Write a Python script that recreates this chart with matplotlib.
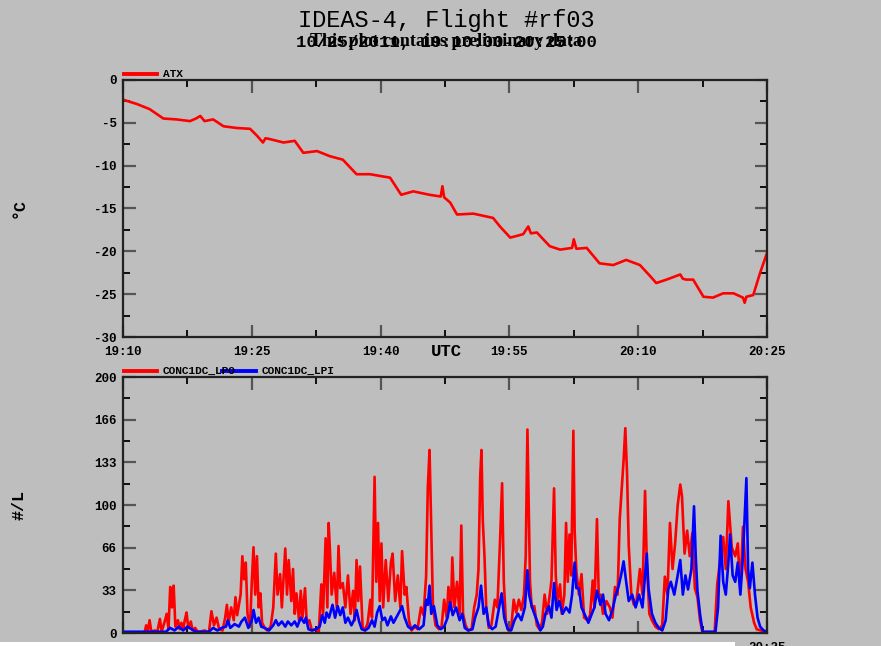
import numpy as np
import matplotlib
matplotlib.use('Agg')
import matplotlib.pyplot as plt
from matplotlib.lines import Line2D
from matplotlib.patches import Rectangle

BG = '#bebebe'
MONO = 'Liberation Mono'

# x axis: minutes after 19:10 UTC
tick_min = [0, 15, 30, 45, 60, 75]
tick_lab = ['19:10', '19:25', '19:40', '19:55', '20:10', '20:25']

# ATX (deg C)
atx_t = [0, 1.6, 3.1, 4.7, 6.2, 7.8, 8.5, 9.0, 9.5, 10.5, 11.7, 13.2, 14.8, 15.6, 16.3, 16.6,
         17.1, 18.7, 20.0, 21.0, 22.6, 24.1, 25.6, 27.2, 28.8, 29.9, 31.1, 32.4, 33.8, 35.7,
         37.0, 37.2, 37.4, 38.1, 38.9, 40.8, 43.1, 43.9, 45.1, 46.6, 47.2, 47.5, 48.2, 49.7,
         50.9, 52.3, 52.5, 52.8, 54.0, 55.5, 57.1, 58.6, 60.2, 61.4, 62.1, 63.3, 64.9, 65.2,
         65.6, 66.4, 67.6, 68.7, 69.9, 71.1, 72.2, 72.4, 72.6, 73.4, 74.2, 75.0]
atx_v = [-2.3, -2.8, -3.4, -4.5, -4.6, -4.8, -4.5, -4.2, -4.8, -4.6, -5.4, -5.6, -5.7, -6.5, -7.3, -6.8,
         -6.9, -7.3, -7.1, -8.5, -8.3, -8.9, -9.3, -11.0, -11.0, -11.2, -11.4, -13.4, -13.0, -13.4,
         -13.6, -12.4, -13.7, -14.3, -15.7, -15.6, -16.1, -17.1, -18.4, -18.0, -17.1, -17.9, -17.8, -19.4,
         -19.8, -19.6, -18.6, -19.7, -19.6, -21.4, -21.6, -21.0, -21.6, -22.9, -23.7, -23.3, -22.7, -23.2,
         -23.3, -23.3, -25.3, -25.4, -24.9, -24.9, -25.4, -26.0, -25.3, -25.1, -22.5, -20.2]

# CONC1DC_LPO (#/L), (minute, value) peaks and troughs
lpo = [(0, 0), (2.5, 0), (2.7, 6), (2.9, 2), (3.1, 10), (3.3, 1), (3.7, 2), (4.0, 1), (4.3, 11), (4.5, 1),
       (4.9, 10), (5.1, 15), (5.3, 3), (5.5, 36), (5.7, 20), (5.9, 37), (6.1, 5), (6.4, 10), (6.6, 3),
       (6.8, 8), (7.0, 3), (7.2, 10), (7.4, 16), (7.6, 4), (7.9, 9), (8.1, 2), (8.4, 4), (8.7, 1), (9, 1),
       (9.5, 2), (10, 0), (10.3, 17), (10.6, 6), (10.9, 12), (11.2, 3), (11.6, 2), (11.9, 12), (12.1, 22),
       (12.3, 8), (12.6, 20), (12.9, 10), (13.1, 28), (13.3, 14), (13.5, 22), (13.7, 30), (13.9, 60),
       (14.1, 42), (14.3, 55), (14.5, 15), (14.8, 5), (15.0, 40), (15.2, 67), (15.4, 30), (15.6, 60),
       (15.8, 20), (16.0, 31), (16.2, 8), (16.5, 4), (16.8, 2), (17.2, 5), (17.5, 20), (17.8, 62),
       (18.0, 30), (18.3, 46), (18.5, 20), (18.9, 66), (19.1, 30), (19.3, 57), (19.6, 25), (19.8, 50),
       (20.0, 15), (20.2, 31), (20.5, 10), (20.7, 33), (20.9, 12), (21.2, 35), (21.4, 8), (21.7, 10),
       (22.0, 2), (22.4, 3), (22.8, 1), (23.1, 38), (23.3, 15), (23.6, 74), (23.8, 20), (23.95, 86),
       (24.1, 65), (24.3, 30), (24.6, 47), (24.9, 20), (25.1, 68), (25.3, 35), (25.6, 39), (25.9, 20),
       (26.2, 45), (26.5, 15), (26.8, 33), (27.0, 10), (27.2, 57), (27.4, 25), (27.6, 52), (27.9, 5),
       (28.2, 2), (28.5, 8), (28.8, 26), (29.0, 12), (29.3, 122), (29.5, 40), (29.7, 86), (29.9, 25),
       (30.1, 70), (30.3, 20), (30.6, 57), (30.9, 25), (31.2, 55), (31.4, 62), (31.7, 25), (32.0, 45),
       (32.3, 20), (32.5, 64), (32.8, 30), (33.0, 36), (33.3, 10), (33.6, 2), (34.0, 5), (34.3, 3),
       (34.7, 20), (35.0, 14), (35.3, 44), (35.5, 114), (35.7, 143), (35.9, 80), (36.1, 20), (36.4, 6),
       (36.8, 3), (37.1, 5), (37.4, 26), (37.7, 12), (37.9, 36), (38.2, 18), (38.35, 59), (38.6, 20),
       (38.9, 40), (39.2, 15), (39.4, 84), (39.6, 15), (39.9, 6), (40.2, 2), (40.6, 3), (40.9, 20),
       (41.2, 30), (41.4, 50), (41.6, 122), (41.75, 143), (41.9, 88), (42.1, 60), (42.3, 20), (42.6, 4),
       (42.9, 6), (43.3, 26), (43.6, 20), (43.9, 70), (44.15, 117), (44.35, 40), (44.6, 8), (44.9, 2),
       (45.2, 3), (45.5, 26), (45.8, 16), (46.1, 26), (46.4, 18), (46.7, 30), (46.9, 60), (47.1, 159),
       (47.25, 100), (47.4, 40), (47.6, 20), (47.9, 21), (48.2, 6), (48.5, 3), (48.8, 8), (49.1, 30),
       (49.4, 15), (49.7, 30), (49.9, 41), (50.2, 113), (50.4, 45), (50.6, 25), (50.9, 38), (51.1, 15),
       (51.4, 30), (51.6, 86), (51.8, 40), (52.0, 77), (52.2, 45), (52.45, 158), (52.6, 80), (52.8, 48),
       (53.1, 30), (53.4, 46), (53.7, 12), (54.1, 10), (54.4, 14), (54.7, 41), (54.9, 20), (55.2, 89),
       (55.4, 30), (55.6, 30), (55.9, 15), (56.3, 25), (56.7, 20), (57.0, 12), (57.3, 36), (57.6, 30),
       (57.85, 89), (58.1, 114), (58.3, 135), (58.5, 160), (58.7, 125), (58.9, 68), (59.2, 30),
       (59.5, 22), (59.8, 25), (60.2, 50), (60.5, 30), (60.8, 111), (61.0, 55), (61.3, 15), (61.6, 10),
       (62.0, 5), (62.4, 3), (62.8, 6), (63.1, 44), (63.4, 30), (63.7, 86), (64.0, 50), (64.3, 70),
       (64.6, 100), (64.9, 116), (65.1, 107), (65.4, 62), (65.7, 80), (66.0, 60), (66.3, 78), (66.6, 35),
       (66.9, 28), (67.2, 10), (67.5, 0), (68.9, 0), (69.2, 38), (69.6, 60), (69.9, 75), (70.2, 50),
       (70.5, 103), (70.7, 85), (70.9, 67), (71.3, 60), (71.6, 70), (71.9, 33), (72.2, 83), (72.5, 50),
       (72.8, 40), (73.1, 20), (73.5, 8), (73.8, 3), (74.3, 2), (75, 0)]

# CONC1DC_LPI (#/L)
lpi = [(0, 1), (5.0, 1), (5.5, 4), (6.0, 2), (6.5, 5), (7.0, 2), (7.5, 5), (8.0, 3), (8.5, 1), (10.0, 1),
       (10.5, 4), (11.0, 2), (11.5, 4), (12.0, 5), (12.2, 10), (12.5, 4), (13.0, 7), (13.5, 5), (13.8, 9),
       (14.2, 12), (14.6, 4), (15.0, 10), (15.2, 18), (15.5, 8), (15.8, 12), (16.1, 5), (16.5, 4),
       (17.0, 2), (17.5, 6), (17.8, 10), (18.1, 6), (18.5, 9), (18.9, 5), (19.2, 9), (19.6, 6), (20.0, 9),
       (20.3, 5), (20.7, 12), (21.1, 8), (21.3, 12), (21.6, 3), (22.0, 2), (22.5, 3), (22.9, 5),
       (23.2, 14), (23.5, 8), (23.7, 16), (24.0, 12), (24.4, 22), (24.7, 12), (25.0, 21), (25.3, 14),
       (25.6, 20), (25.9, 8), (26.2, 12), (26.6, 6), (26.9, 10), (27.2, 18), (27.5, 9), (27.8, 3),
       (28.2, 2), (28.6, 4), (29.0, 10), (29.3, 5), (29.6, 16), (29.9, 21), (30.2, 10), (30.5, 12),
       (30.8, 6), (31.2, 13), (31.5, 8), (31.9, 13), (32.3, 18), (32.5, 21), (32.8, 12), (33.2, 5),
       (33.6, 3), (34.0, 6), (34.5, 3), (35.0, 6), (35.3, 26), (35.5, 22), (35.7, 37), (35.9, 15),
       (36.2, 21), (36.6, 6), (37.0, 3), (37.4, 5), (37.8, 12), (38.1, 24), (38.4, 14), (38.8, 20),
       (39.2, 10), (39.5, 15), (39.8, 4), (40.2, 2), (40.7, 3), (41.0, 12), (41.4, 20), (41.7, 37),
       (42.0, 15), (42.3, 20), (42.6, 6), (43.0, 3), (43.4, 5), (43.8, 20), (44.1, 31), (44.4, 12),
       (44.8, 3), (45.2, 2), (45.6, 10), (46.0, 15), (46.4, 10), (46.8, 20), (47.1, 49), (47.3, 30),
       (47.6, 21), (47.9, 15), (48.3, 8), (48.6, 2), (48.9, 5), (49.2, 15), (49.6, 21), (49.9, 12),
       (50.2, 39), (50.5, 18), (50.8, 25), (51.2, 15), (51.6, 20), (52.0, 16), (52.3, 30), (52.6, 55),
       (52.8, 35), (53.1, 35), (53.4, 20), (53.8, 14), (54.2, 8), (54.6, 15), (54.9, 20), (55.2, 33),
       (55.6, 22), (55.9, 30), (56.2, 15), (56.6, 10), (57.0, 18), (57.4, 30), (57.7, 36), (58.0, 45),
       (58.3, 56), (58.6, 40), (58.9, 25), (59.3, 30), (59.7, 20), (60.1, 30), (60.5, 20), (60.8, 45),
       (61.0, 62), (61.2, 35), (61.6, 15), (62.0, 8), (62.4, 4), (62.8, 2), (63.2, 10), (63.5, 34),
       (63.8, 40), (64.2, 30), (64.6, 45), (64.9, 57), (65.2, 30), (65.5, 45), (65.8, 34), (66.2, 50),
       (66.5, 99), (66.7, 60), (66.9, 33), (67.2, 15), (67.5, 1), (69.0, 1), (69.3, 20), (69.6, 76),
       (69.9, 40), (70.2, 30), (70.5, 55), (70.7, 77), (71.0, 45), (71.3, 40), (71.6, 55), (71.9, 30),
       (72.2, 60), (72.6, 121), (72.8, 50), (73.0, 35), (73.3, 55), (73.6, 30), (73.9, 12), (74.2, 5),
       (74.6, 2), (75, 1)]

conc_ticks = [0, 200 / 6, 400 / 6, 100, 800 / 6, 1000 / 6, 200]
conc_labels = ['0', '33', '66', '100', '133', '166', '200']
atx_ticks = [-30, -25, -20, -15, -10, -5, 0]
atx_labels = ['-30', '-25', '-20', '-15', '-10', '-5', '0']


def style(ax, ylim, yticks, ylabels):
    ax.set_facecolor(BG)
    ax.set_xlim(0, 75)
    ax.set_ylim(*ylim)
    ax.set_xticks(tick_min)
    ax.set_xticklabels(tick_lab)
    ax.set_xticks([m + 7.5 for m in tick_min[:-1]], minor=True)
    ax.set_yticks(yticks)
    ax.set_yticklabels(ylabels)
    ax.set_yticks([(a + b) / 2 for a, b in zip(yticks[:-1], yticks[1:])], minor=True)
    ax.tick_params(which='both', direction='in', top=True, right=True)
    ax.tick_params(which='major', length=9, width=1.6, color='#555555')
    ax.tick_params(which='minor', length=5, width=1.3, color='black')
    ax.tick_params(axis='x', pad=6.5)
    ax.tick_params(axis='y', pad=4.5)
    for lab in ax.get_xticklabels() + ax.get_yticklabels():
        lab.set_family(MONO)
        lab.set_weight('bold')
        lab.set_size(9)
    for s in ax.spines.values():
        s.set_linewidth(1.6)
        s.set_color('#222222')


fig = plt.figure(figsize=(8.81, 6.46), dpi=100, facecolor=BG)
ax1 = fig.add_axes([0.1396, 0.4783, 0.7310, 0.3979])
ax2 = fig.add_axes([0.1396, 0.0201, 0.7310, 0.3963])

ax1.plot(atx_t, atx_v, color='#ff0000', lw=1.9)
style(ax1, (-30, 0), atx_ticks, atx_labels)

lpo_t, lpo_v = zip(*lpo)
lpi_t, lpi_v = zip(*lpi)
ax2.plot(lpo_t, lpo_v, color='#ff0000', lw=1.9)
ax2.plot(lpi_t, lpi_v, color='#0000ff', lw=1.9)
style(ax2, (0, 200), conc_ticks, conc_labels)

# titles
fig.text(446 / 881, 1 - 20 / 646, 'IDEAS-4, Flight #rf03', ha='center', va='center',
         family=MONO, size=17)
fig.text(446 / 881, 1 - 42 / 646, '10/25/2011, 19:10:00-20:25:00', ha='center', va='center',
         family=MONO, weight='bold', size=12.5)
fig.text(446 / 881, 1 - 42 / 646, 'This plot contains preliminary data', ha='center', va='center',
         family='Liberation Serif', weight='bold', size=13)

fig.text(19 / 881, 1 - 208 / 646, '°C', rotation=90, ha='center', va='center',
         family=MONO, weight='bold', size=12)
fig.text(19 / 881, 1 - 505 / 646, '#/L', rotation=90, ha='center', va='center',
         family=MONO, weight='bold', size=12)
fig.text(446 / 881, 1 - 352 / 646, 'UTC', ha='center', va='center',
         family=MONO, weight='bold', size=12.5)

# legends
def legend_entry(x0, x1, y, color, label):
    fig.add_artist(Line2D([x0 / 881, x1 / 881], [1 - y / 646] * 2, color=color, lw=2.8,
                          transform=fig.transFigure))
    fig.text((x1 + 6) / 881, 1 - y / 646, label, ha='left', va='center',
             family=MONO, weight='bold', size=8)


legend_entry(124, 157, 74, '#ff0000', 'ATX')
legend_entry(124, 157, 371, '#ff0000', 'CONC1DC_LPO')
legend_entry(222, 256, 371, '#0000ff', 'CONC1DC_LPI')

# white strip at the clipped bottom edge
fig.add_artist(Rectangle((0, 0), 735 / 881, 4.5 / 646, transform=fig.transFigure,
                         facecolor='white', edgecolor='none', zorder=10))

fig.savefig('out.png', dpi=100, facecolor=BG)
